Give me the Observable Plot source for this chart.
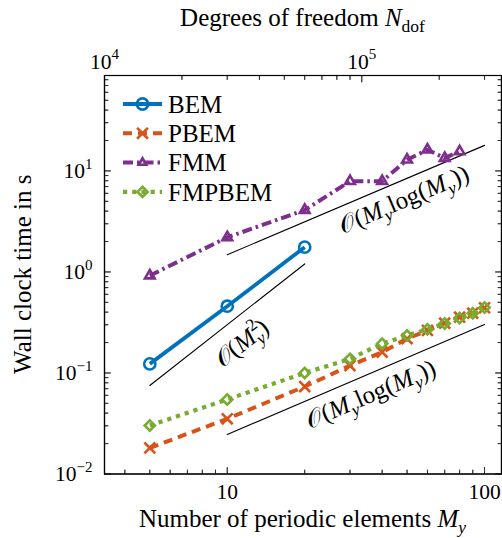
<!DOCTYPE html>
<html><head><meta charset="utf-8">
<script src="https://cdn.jsdelivr.net/npm/d3@7"></script>
<script src="https://cdn.jsdelivr.net/npm/@observablehq/plot@0.6"></script>
<style>html,body{margin:0;padding:0;background:#fff;overflow:hidden}</style>
</head><body><div id="chart"></div>
<script>
// ---------------- data ----------------
const seriesNames = ["BEM", "PBEM", "FMM", "FMPBEM"];
const bemM = [5, 10, 20];
const bemT = [0.123, 0.458, 1.76];
const pbemM = [5, 10, 20, 30, 40, 50, 60, 70, 80, 90, 100];
const pbemT = [0.0181, 0.0352, 0.0734, 0.118, 0.161, 0.218, 0.264, 0.311, 0.357, 0.391, 0.442];
const fmmM = [5, 10, 20, 30, 40, 50, 60, 70, 80];
const fmmT = [0.92, 2.2, 4.1, 7.9, 7.9, 12.9, 16.2, 13.4, 15.6];
const fmpbemM = [5, 10, 20, 30, 40, 50, 60, 70, 80, 90, 100];
const fmpbemT = [0.0302, 0.0547, 0.100, 0.138, 0.195, 0.235, 0.27, 0.309, 0.35, 0.39, 0.445];
// reference slope lines (end points)
const refSqM = [5, 20];
const refSqT = [0.0752, 1.2];
const refFmmM = [10, 100];
const refFmmT = [1.48, 17.9];
const refPbemM = [10, 100];
const refPbemT = [0.0246, 0.302];
// ticks
const xMajorTicks = [10, 100];
const xMinorTicks = [4, 5, 6, 7, 8, 9, 20, 30, 40, 50, 60, 70, 80, 90];
const nMajorTicks = [1e4, 1e5];
const nMinorTicks = [2e4, 3e4, 4e4, 5e4, 6e4, 7e4, 8e4, 9e4, 2e5, 3e5];
const dofPerElement = 3000;
const yMajorTicks = [0.01, 0.1, 1, 10];
const yMinorTicks = [0.02, 0.03, 0.04, 0.05, 0.06, 0.07, 0.08, 0.09,
                     0.2, 0.3, 0.4, 0.5, 0.6, 0.7, 0.8, 0.9,
                     2, 3, 4, 5, 6, 7, 8, 9, 20, 30, 40, 50, 60, 70, 80];

// ---------------- styles ----------------
const FONT = "'Liberation Serif', 'Times New Roman', serif";
const FS = 25;     // labels, legend, annotations
const TFS = 21.5;  // tick labels
const styles = [
  {color: "#0072BD", dash: null, symbol: "circle", r: 5.6, width: 3.8},
  {color: "#D95319", dash: "9,6", symbol: "times", r: 5, width: 4},
  {color: "#7E2F8E", dash: "10,4,2.5,4", symbol: "triangle", r: 3.6, width: 4},
  {color: "#77AC30", dash: "4.2,5", symbol: "diamond2", r: 4.6, width: 4.2}
];
const zipPts = (M, T) => M.map((m, i) => ({M: m, T: T[i]}));
const seriesData = [zipPts(bemM, bemT), zipPts(pbemM, pbemT), zipPts(fmmM, fmmT), zipPts(fmpbemM, fmpbemT)];
const refData = [zipPts(refSqM, refSqT), zipPts(refFmmM, refFmmT), zipPts(refPbemM, refPbemT)];

const supFmt = v => "10^" + Math.round(Math.log10(v));
const nToM = n => n / dofPerElement;
const tk = {stroke: "#333", strokeWidth: 0.9, fill: "none"};

const marks = [];
refData.forEach(d => marks.push(Plot.line(d, {x: "M", y: "T", stroke: "#000", strokeWidth: 1.1})));
seriesData.forEach((d, i) => {
  const s = styles[i];
  marks.push(Plot.line(d, {x: "M", y: "T", stroke: s.color, strokeWidth: s.width, strokeDasharray: s.dash, strokeLinecap: "butt"}));
  marks.push(Plot.dot(d, {x: "M", y: "T", symbol: s.symbol, r: s.r, stroke: s.color, strokeWidth: 2.6, fill: "none"}));
});
// inward ticks via Plot axes
marks.push(Plot.axisX(xMajorTicks, {anchor: "bottom", tickSize: -6.5, ...tk}));
marks.push(Plot.axisX(xMinorTicks, {anchor: "bottom", tickSize: -4, ...tk}));
marks.push(Plot.axisX(nMajorTicks.map(nToM), {anchor: "top", tickSize: -6.5, ...tk}));
marks.push(Plot.axisX(nMinorTicks.map(nToM), {anchor: "top", tickSize: -4, ...tk}));
marks.push(Plot.axisY(yMajorTicks, {anchor: "left", tickSize: -6.5, ...tk}));
marks.push(Plot.axisY(yMinorTicks, {anchor: "left", tickSize: -4, ...tk}));
marks.push(Plot.axisY(yMajorTicks, {anchor: "right", tickSize: -6.5, ...tk}));
marks.push(Plot.axisY(yMinorTicks, {anchor: "right", tickSize: -4, ...tk}));
// tick labels
marks.push(Plot.axisX(xMajorTicks, {anchor: "bottom", tickSize: 0, tickPadding: 10, tickFormat: d => String(d), fill: "#000", fontSize: TFS}));
marks.push(Plot.axisY(yMajorTicks, {anchor: "left", tickSize: 0, tickPadding: 12, tickFormat: supFmt, fill: "#000", fontSize: TFS}));
marks.push(Plot.text(nMajorTicks, {x: nToM, text: supFmt, frameAnchor: "top", lineAnchor: "bottom", dy: -7, fill: "#000", fontSize: TFS}));
marks.push(Plot.frame({stroke: "#000", strokeWidth: 1.2}));

const plot = Plot.plot({
  width: 502, height: 538,
  marginLeft: 104, marginRight: 1, marginTop: 75, marginBottom: 64.5,
  style: {fontFamily: FONT, fontSize: TFS + "px", background: "#fff", color: "#000"},
  x: {type: "log", domain: [10 / 3, 116.4], label: null},
  y: {type: "log", domain: [0.01, 88], label: null},
  marks
});
document.getElementById("chart").appendChild(plot);

const svg = d3.select(plot);
const sx = plot.scale("x").apply, sy = plot.scale("y").apply;
const xr = plot.scale("x").range, yr = plot.scale("y").range;
const x0 = Math.min(...xr), x1 = Math.max(...xr), y0 = Math.min(...yr), y1 = Math.max(...yr);

// superscript tick labels
svg.selectAll("text").each(function () {
  const el = d3.select(this);
  const s = el.text();
  const m = /^10\^(-?\d+)$/.exec(s);
  if (!m) return;
  el.text("");
  el.append("tspan").text("10");
  el.append("tspan").attr("font-size", 0.7 * TFS).attr("dy", -0.42 * TFS).text(m[1].replace("-", "\u2212"));
});

// rich text helper
function rich(parent, parts, fs) {
  const t = parent.append("text").attr("font-size", fs).attr("fill", "#000").attr("font-family", FONT);
  let shift = 0;
  for (const p of parts) {
    const ts = t.append("tspan").text(p.t);
    if (p.i) ts.attr("font-style", "italic");
    let target = 0, size = fs;
    if (p.sup) { target = -0.42 * fs; size = 0.7 * fs; }
    if (p.sub) { target = 0.24 * fs; size = 0.7 * fs; }
    ts.attr("font-size", size);
    if (target !== shift) { ts.attr("dy", target - shift); shift = target; }
    if (p.dx) ts.attr("dx", p.dx);
  }
  return t;
}

// axis titles
rich(svg, [{t: "Degrees of freedom "}, {t: "N", i: true}, {t: "dof", sub: true}], FS)
  .attr("text-anchor", "middle").attr("x", (x0 + x1) / 2).attr("y", 26);
rich(svg, [{t: "Number of periodic elements "}, {t: "M", i: true}, {t: "y", i: true, sub: true}], FS)
  .attr("text-anchor", "middle").attr("x", (x0 + x1) / 2).attr("y", 527);
rich(svg, [{t: "Wall clock time in s"}], FS)
  .attr("text-anchor", "middle").attr("transform", `translate(31,${(y0 + y1) / 2}) rotate(-90)`);

// slope annotations placed relative to reference lines
const calO = "\u{1D4AA}";
const labelParts = [
  [{t: calO + "("}, {t: "M", i: true}, {t: "2", sup: true}, {t: "y", i: true, sub: true, dx: -0.36 * FS}, {t: ")"}],
  [{t: calO + "("}, {t: "M", i: true}, {t: "y", i: true, sub: true}, {t: "log("}, {t: "M", i: true}, {t: "y", i: true, sub: true}, {t: "))"}],
  [{t: calO + "("}, {t: "M", i: true}, {t: "y", i: true, sub: true}, {t: "log("}, {t: "M", i: true}, {t: "y", i: true, sub: true}, {t: "))"}]
];
const labelFrac = [0.5, 0.66, 0.53];
const labelOff = [24, 19, 20];
refData.forEach((d, k) => {
  const axp = sx(d[0].M), ayp = sy(d[0].T), bxp = sx(d[1].M), byp = sy(d[1].T);
  const len = Math.hypot(bxp - axp, byp - ayp);
  const nx = -(byp - ayp) / len, ny = (bxp - axp) / len;
  const f = labelFrac[k], o = labelOff[k];
  const cx = axp + (bxp - axp) * f + nx * o, cy = ayp + (byp - ayp) * f + ny * o;
  const ang = Math.atan2(byp - ayp, bxp - axp) * 180 / Math.PI;
  const g = svg.append("g").attr("transform", `translate(${cx},${cy}) rotate(${ang})`);
  rich(g, labelParts[k], FS).attr("text-anchor", "middle").attr("y", 0.32 * FS);
});

// legend
const symMap = {circle: d3.symbolCircle, times: d3.symbolTimes, triangle: d3.symbolTriangle2, diamond2: d3.symbolDiamond2};
const legY = [104, 133.3, 162.6, 191.9];
seriesNames.forEach((name, i) => {
  const s = styles[i];
  const g = svg.append("g").attr("transform", `translate(0,${legY[i]})`);
  g.append("line").attr("x1", 123).attr("x2", 162).attr("y1", 0).attr("y2", 0)
    .attr("stroke", s.color).attr("stroke-width", s.width).attr("stroke-dasharray", s.dash).attr("stroke-linecap", "butt");
  g.append("path").attr("transform", "translate(142.5,0)")
    .attr("d", d3.symbol(symMap[s.symbol], Math.PI * s.r * s.r)())
    .attr("fill", "none").attr("stroke", s.color).attr("stroke-width", 2.6);
  rich(g, [{t: name}], FS).attr("text-anchor", "start").attr("x", 168).attr("y", 0.35 * FS);
});

// frame and inward ticks drawn last as paths (same positions as Plot's axes, from its scales)
const tickPath = [];
xMajorTicks.forEach(v => tickPath.push(`M${sx(v)},${y1}v-6.5`));
xMinorTicks.forEach(v => tickPath.push(`M${sx(v)},${y1}v-4`));
nMajorTicks.forEach(n => tickPath.push(`M${sx(nToM(n))},${y0}v6.5`));
nMinorTicks.forEach(n => tickPath.push(`M${sx(nToM(n))},${y0}v4`));
yMajorTicks.forEach(v => tickPath.push(`M${x0},${sy(v)}h6.5M${x1},${sy(v)}h-6.5`));
yMinorTicks.forEach(v => tickPath.push(`M${x0},${sy(v)}h4M${x1},${sy(v)}h-4`));
const axisLayer = svg.append("g").attr("transform", "translate(0.5,0.5)");
axisLayer.append("path").attr("d", tickPath.join("")).attr("fill", "none").attr("stroke", "#333").attr("stroke-width", 0.9);
axisLayer.append("path").attr("d", `M${x0},${y0}H${x1}V${y1}H${x0}Z`).attr("fill", "none").attr("stroke", "#000").attr("stroke-width", 1.2);
</script>
</body></html>
